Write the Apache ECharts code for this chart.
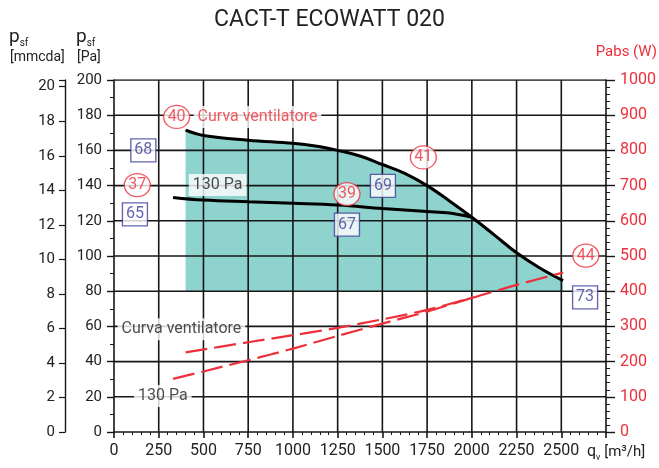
<!DOCTYPE html>
<html><head><meta charset="utf-8">
<script src="https://cdn.jsdelivr.net/npm/echarts@6/dist/echarts.min.js"></script>
<style>html,body{margin:0;padding:0;background:#fff}#c{width:659px;height:468px}</style>
</head><body><div id="c"></div>
<script>
// ---- data ----
const qvFan = [400, 500, 750, 1000, 1125, 1250, 1375, 1500, 1625, 1750, 1875, 2000, 2125, 2250, 2375, 2510];
const paFan = [171.5, 168.5, 165.8, 164, 162.5, 160, 156.8, 152, 147, 140, 131.3, 122, 112, 101.8, 93.5, 86];
const qv130 = [330, 500, 750, 1000, 1250, 1500, 1750, 1875, 2000];
const pa130 = [133.3, 131.8, 130.8, 130, 129, 127, 125.3, 124.4, 122];
const qvPowFan = [400, 750, 1000, 1250, 1500, 1750, 2000, 2250, 2510];
const wPowFan = [226, 255, 275, 296, 320, 347, 381, 418, 453];
const qvPow130 = [330, 500, 750, 1000, 1250, 1500, 1750, 2000];
const wPow130 = [151, 172, 204, 237, 273, 308, 342, 381];
const fillBasePa = 80;
const qvMin = 0, qvMax = 2750, qvStep = 250;
const paMin = 0, paMax = 200, paStep = 20;
const qvGrid = [250, 500, 750, 1000, 1250, 1500, 1750, 2000, 2250, 2500];
const paGrid = [20, 40, 60, 80, 100, 120, 140, 160, 180, 200];
const mmcdaStep = 2;
const paPerMmcda = 9.81;

const circleLabels = ['40', '37', '39', '41', '44'];
const circleQv = [350, 130, 1302, 1729, 2637];
const circlePa = [179, 140.3, 135.2, 156, 100.2];
const boxLabels = ['68', '65', '69', '67', '73'];
const boxQv = [164, 117, 1503, 1302, 2633];
const boxPa = [160, 123.7, 139.8, 117.8, 76.5];
const noteTexts = ['Curva ventilatore', '130 Pa', 'Curva ventilatore', '130 Pa'];
const noteQv = [802, 579, 377, 273];
const notePa = [179, 140.3, 58.4, 20.5];
const noteRed = [true, false, false, false];

// ---- styles ----
const FONT = 'Roboto';
const RED = '#ec2f3b';
const BLUE = '#3c3c9c';
const INK = '#222';
const GRID = '#161616';

const zip = (a, b) => a.map((v, i) => [v, b[i]]);

const gridSeries = qvGrid.map(v => [[v, paMin], [v, paMax]])
  .concat(paGrid.map(v => [[qvMin, v], [qvMax, v]]))
  .map(d => ({
    type: 'line', xAxisIndex: 0, yAxisIndex: 0, z: 2, data: d, symbol: 'none', silent: true,
    lineStyle: {color: GRID, width: 1.6, type: 'solid'}, emphasis: {disabled: true}, tooltip: {show: false}
  }));

const chart = echarts.init(document.getElementById('c'), null, {renderer: 'canvas'});
chart.setOption({
  animation: false,
  backgroundColor: '#fff',
  textStyle: {fontFamily: FONT},
  title: {
    text: 'CACT-T ECOWATT 020', left: 'center', top: 4,
    textStyle: {fontFamily: FONT, fontSize: 23, fontWeight: 'normal', color: INK}
  },
  grid: {left: 114, right: 52, top: 80, bottom: 36},
  xAxis: [{
    type: 'value', min: qvMin, max: qvMax, interval: qvStep, position: 'bottom',
    axisLine: {show: true, lineStyle: {color: GRID, width: 1.6}},
    axisTick: {show: true, length: 6, lineStyle: {color: GRID, width: 1.6}},
    minorTick: {show: true, splitNumber: 5, length: 3, lineStyle: {color: GRID, width: 1}},
    splitLine: {show: false},
    axisLabel: {fontSize: 16, color: INK, margin: 11, fontFamily: FONT,
      formatter: v => (v >= qvMax ? '' : String(v))}
  }],
  yAxis: [{
    type: 'value', min: paMin, max: paMax, interval: paStep, position: 'left',
    axisLine: {show: true, lineStyle: {color: GRID, width: 1.6}},
    axisTick: {show: true, length: 7, lineStyle: {color: GRID, width: 1.4}},
    minorTick: {show: true, splitNumber: 2, length: 4, lineStyle: {color: GRID, width: 1}},
    splitLine: {show: false},
    axisLabel: {fontSize: 15, color: INK, margin: 12, fontFamily: FONT}
  }, {
    type: 'value', min: 0, max: 1000, interval: 100, position: 'right',
    axisLine: {show: true, lineStyle: {color: GRID, width: 1.6}},
    axisTick: {show: true, length: 9, lineStyle: {color: GRID, width: 1.4}},
    minorTick: {show: true, splitNumber: 5, length: 4, lineStyle: {color: GRID, width: 1}},
    splitLine: {show: false},
    axisLabel: {fontSize: 16, color: RED, margin: 14, fontFamily: FONT, formatter: v => String(v)}
  }, {
    type: 'value', min: 0, max: paMax / paPerMmcda, interval: mmcdaStep, position: 'left', offset: 49,
    axisLine: {show: true, lineStyle: {color: GRID, width: 1.4}},
    axisTick: {show: true, length: 6, lineStyle: {color: GRID, width: 1.2}},
    splitLine: {show: false},
    axisLabel: {fontSize: 15, color: INK, margin: 10, fontFamily: FONT,
      formatter: v => (Math.abs(v / mmcdaStep - Math.round(v / mmcdaStep)) < 1e-6 ? String(Math.round(v)) : '')}
  }],
  graphic: [
    {type: 'text', left: 9, top: 28, z: 10, style: {
      text: '{p|p}{s|sf}', rich: {p: {fontSize: 19, fontFamily: FONT, fill: INK, lineHeight: 22},
        s: {fontSize: 10, fontFamily: FONT, fill: INK, verticalAlign: 'bottom', lineHeight: 14}}}},
    {type: 'text', left: 10, top: 50, z: 10, style: {text: '[mmcda]', fontSize: 14, fontFamily: FONT, fill: INK}},
    {type: 'text', left: 76, top: 28, z: 10, style: {
      text: '{p|p}{s|sf}', rich: {p: {fontSize: 19, fontFamily: FONT, fill: INK, lineHeight: 22},
        s: {fontSize: 10, fontFamily: FONT, fill: INK, verticalAlign: 'bottom', lineHeight: 14}}}},
    {type: 'text', left: 77, top: 50, z: 10, style: {text: '[Pa]', fontSize: 14, fontFamily: FONT, fill: INK}},
    {type: 'text', right: 2, top: 45, z: 10, style: {text: 'Pabs (W)', fontSize: 15, fontFamily: FONT, fill: RED}},
    {type: 'text', left: 587, top: 444, z: 10, style: {
      text: '{q|q}{v|v}{t| [m³/h]}', rich: {q: {fontSize: 16, fontFamily: FONT, fill: INK, lineHeight: 20},
        v: {fontSize: 9, fontFamily: FONT, fill: INK, verticalAlign: 'bottom', lineHeight: 12},
        t: {fontSize: 15, fontFamily: FONT, fill: INK, lineHeight: 20}}}}
  ],
  series: [
    {
      name: 'fill', type: 'line', xAxisIndex: 0, yAxisIndex: 0, z: 1, smooth: 0.4,
      data: zip(qvFan, paFan), symbol: 'none', silent: true,
      lineStyle: {width: 0, opacity: 0},
      areaStyle: {color: '#8fd3ce', opacity: 1, origin: fillBasePa}
    }
  ].concat(gridSeries).concat([
    {
      name: 'Curva ventilatore', type: 'line', xAxisIndex: 0, yAxisIndex: 0, z: 5, smooth: 0.4,
      data: zip(qvFan, paFan), symbol: 'none',
      lineStyle: {color: '#000', width: 3}
    },
    {
      name: '130 Pa', type: 'line', xAxisIndex: 0, yAxisIndex: 0, z: 5, smooth: 0.4,
      data: zip(qv130, pa130), symbol: 'none',
      lineStyle: {color: '#000', width: 3}
    },
    {
      name: 'Pabs fan', type: 'line', xAxisIndex: 0, yAxisIndex: 1, z: 5, smooth: 0.3,
      data: zip(qvPowFan, wPowFan), symbol: 'none',
      lineStyle: {color: RED, width: 2.2, type: [22, 7]}
    },
    {
      name: 'Pabs 130', type: 'line', xAxisIndex: 0, yAxisIndex: 1, z: 5, smooth: 0.3,
      data: zip(qvPow130, wPow130), symbol: 'none',
      lineStyle: {color: RED, width: 2.2, type: [22, 7]}
    },
    {
      name: 'notes', type: 'scatter', xAxisIndex: 0, yAxisIndex: 0, z: 6,
      symbol: 'rect', symbolSize: 1, itemStyle: {color: 'rgba(0,0,0,0)'},
      data: noteTexts.map((t, i) => ({
        value: [noteQv[i], notePa[i]], name: t,
        label: {show: true, position: 'inside', formatter: t, fontSize: 16, fontFamily: FONT,
          color: noteRed[i] ? RED : INK, backgroundColor: '#fff', padding: [3, 4]}
      }))
    },
    {
      name: 'circles', type: 'scatter', xAxisIndex: 0, yAxisIndex: 0, z: 7,
      symbol: 'path://M0,50A50,50,0,1,1,100,50A50,50,0,1,1,0,50Z', symbolSize: [26, 23],
      itemStyle: {color: '#fff', borderColor: RED, borderWidth: 1.3},
      label: {show: true, position: 'inside', formatter: p => p.name, fontSize: 16, fontFamily: FONT, color: RED},
      data: circleLabels.map((t, i) => ({name: t, value: [circleQv[i], circlePa[i]]}))
    },
    {
      name: 'boxes', type: 'scatter', xAxisIndex: 0, yAxisIndex: 0, z: 7,
      symbol: 'rect', symbolSize: [25, 23],
      itemStyle: {color: '#fff', borderColor: BLUE, borderWidth: 1.3},
      label: {show: true, position: 'inside', formatter: p => p.name, fontSize: 16, fontFamily: FONT, color: BLUE},
      data: boxLabels.map((t, i) => ({name: t, value: [boxQv[i], boxPa[i]]}))
    }
  ])
});
</script>
</body></html>
